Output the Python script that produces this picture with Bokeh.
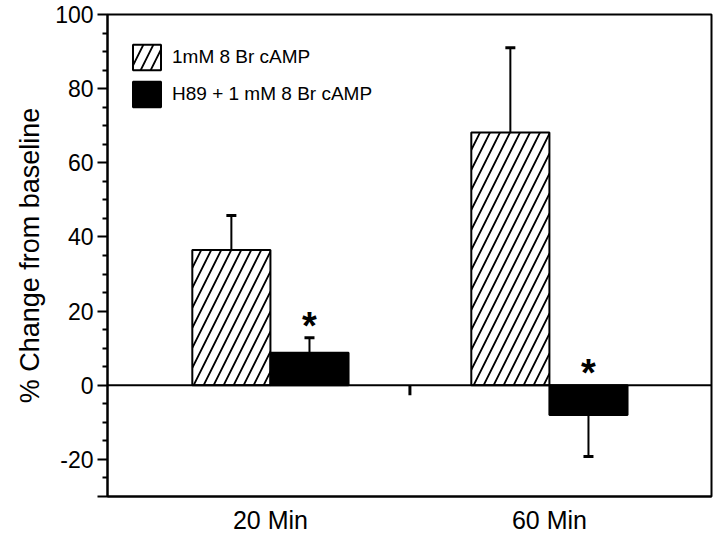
import math
from bokeh.plotting import figure
from bokeh.models import (Range1d, FixedTicker, Span, Legend, LegendItem,
                          ColumnDataSource)
from bokeh.transform import dodge
from bokeh.core.properties import value
from bokeh.embed import file_html
from bokeh.resources import INLINE

# ---------------- data ----------------
categories = ["20 Min", "60 Min"]
series = ["1mM 8 Br cAMP", "H89 + 1 mM 8 Br cAMP"]
camp_mean = [36.5, 68.2]
camp_err = [9.3, 22.8]
h89_mean = [8.8, -8.0]
h89_err = [4.0, 11.2]
h89_significant = [True, True]
y_major_ticks = [-30, -20, 0, 20, 40, 60, 80, 100]
y_minor_ticks = [-25, -15, -10, -5, 5, 10, 15, 25, 30, 35, 45, 50, 55,
                 65, 70, 75, 85, 90, 95]

FONT = "Liberation Sans"

xs = [i + 1 for i in range(len(categories))]


def err_end(means, errs):
    return [m + e if m >= 0 else m - e for m, e in zip(means, errs)]


src_a = ColumnDataSource(dict(x=xs, mean=camp_mean, end=err_end(camp_mean, camp_err)))
src_b = ColumnDataSource(dict(x=xs, mean=h89_mean, end=err_end(h89_mean, h89_err)))

star_x = [x for x, s in zip(xs, h89_significant) if s]
star_y = [max(e, 0) if m >= 0 else 0
          for m, e, s in zip(h89_mean, err_end(h89_mean, h89_err), h89_significant) if s]
src_star = ColumnDataSource(dict(x=star_x, y=star_y))

p = figure(width=720, height=536, output_backend="svg", toolbar_location=None,
           x_range=Range1d(0.416, 2.581), y_range=Range1d(-30, 100),
           min_border_left=107, min_border_right=9, min_border_top=14,
           min_border_bottom=36)

p.background_fill_color = "white"
p.border_fill_color = "white"
p.outline_line_color = "black"
p.outline_line_width = 2
p.xgrid.visible = False
p.ygrid.visible = False

OFF = 0.14
W = 0.28

r_a = p.vbar(x=dodge("x", -OFF, range=p.x_range), top="mean", bottom=0, width=W,
             source=src_a, fill_color="white", line_color="black", line_width=2,
             hatch_pattern="/", hatch_color="black", hatch_scale=20,
             hatch_weight=1.8)
r_b = p.vbar(x=dodge("x", OFF, range=p.x_range), top="mean", bottom=0, width=W,
             source=src_b, fill_color="black", line_color="black", line_width=2)

for src, off in ((src_a, -OFF), (src_b, OFF)):
    p.segment(x0=dodge("x", off, range=p.x_range), y0="mean",
              x1=dodge("x", off, range=p.x_range), y1="end",
              source=src, line_color="black", line_width=2)
    p.scatter(x=dodge("x", off, range=p.x_range), y="end", source=src,
              marker="dash", size=10, line_color="black", line_width=3)

zero = Span(location=0, dimension="width", line_color="black", line_width=2)
p.add_layout(zero)

# tick between groups on the zero line
mid = (xs[0] + xs[-1]) / 2
p.ray(x=[mid], y=[0], length=10, length_units="screen", angle=-math.pi / 2,
      line_color="black", line_width=3)

p.text(x=dodge("x", OFF, range=p.x_range), y="y", text=value("*"), source=src_star,
       text_align="center", text_baseline="middle", y_offset=-12,
       text_font=value(FONT), text_font_size="38px", text_font_style="bold",
       text_color="black")

# y axis
yax = p.yaxis[0]
yax.ticker = FixedTicker(ticks=y_major_ticks, minor_ticks=y_minor_ticks)
yax.major_label_overrides = {t: ("" if t == -30 else str(t)) for t in y_major_ticks}
yax.axis_line_width = 2
yax.axis_line_color = "black"
yax.major_tick_line_width = 2
yax.minor_tick_line_width = 2
yax.major_tick_out = 10
yax.major_tick_in = 0
yax.minor_tick_out = 5
yax.minor_tick_in = 0
yax.major_label_standoff = 4
yax.major_label_text_font = FONT
yax.major_label_text_font_size = "23px"
yax.major_label_text_color = "black"
yax.axis_label = "% Change from baseline"
yax.axis_label_text_font = FONT
yax.axis_label_text_font_size = "27px"
yax.axis_label_text_font_style = "normal"
yax.axis_label_text_color = "black"
yax.axis_label_standoff = 7

# x axis
xax = p.xaxis[0]
xax.ticker = FixedTicker(ticks=xs, minor_ticks=[])
xax.major_label_overrides = {x: c for x, c in zip(xs, categories)}
xax.axis_line_width = 2
xax.axis_line_color = "black"
xax.major_tick_out = 0
xax.major_tick_in = 0
xax.minor_tick_out = 0
xax.minor_tick_in = 0
xax.major_label_standoff = 9
xax.major_label_text_font = FONT
xax.major_label_text_font_size = "25px"
xax.major_label_text_color = "black"

legend = Legend(items=[LegendItem(label=series[0], renderers=[r_a]),
                       LegendItem(label=series[1], renderers=[r_b])],
                location=(22, 386), padding=0, margin=0, spacing=5,
                glyph_width=35, glyph_height=32, label_standoff=8,
                label_text_font=FONT, label_text_font_size="19px",
                label_text_color="black", border_line_color=None,
                background_fill_alpha=0)
p.add_layout(legend)

open("out.html", "w").write(file_html(p, INLINE))
